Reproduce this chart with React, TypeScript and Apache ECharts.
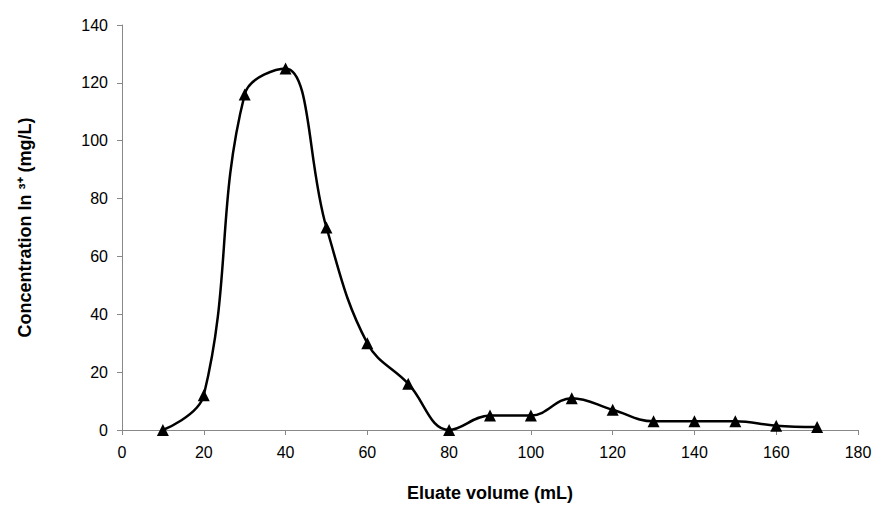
import { useEffect, useRef } from 'react';
import * as echarts from 'echarts';

const volumes = [10, 20, 30, 40, 50, 60, 70, 80, 90, 100, 110, 120, 130, 140, 150, 160, 170];
const concentration = [0, 12, 116, 125, 70, 30, 16, 0, 5, 5, 11, 7, 3, 3, 3, 1.5, 1];

export default function App() {
  const ref = useRef<HTMLDivElement>(null);

  useEffect(() => {
    if (!ref.current) return undefined;
    const chart = echarts.init(ref.current, undefined, { renderer: 'svg' });
    const axisText = { color: '#000', fontSize: 16, fontFamily: 'Liberation Sans, Arial, sans-serif' };
    chart.setOption({
      animation: false,
      backgroundColor: '#fff',
      grid: { left: 114, right: 20, top: 17, bottom: 65 },
      xAxis: {
        type: 'value',
        min: 0,
        max: 180,
        interval: 20,
        name: 'Eluate volume (mL)',
        nameLocation: 'middle',
        nameGap: 54,
        nameTextStyle: { ...axisText, fontSize: 18, fontWeight: 'bold' },
        axisLine: { lineStyle: { color: '#888' } },
        axisTick: { lineStyle: { color: '#888' } },
        axisLabel: { ...axisText, margin: 14 },
        splitLine: { show: false },
      },
      yAxis: {
        type: 'value',
        min: 0,
        max: 140,
        interval: 20,
        name: 'Concentration In ³⁺ (mg/L)',
        nameLocation: 'middle',
        nameGap: 88,
        nameTextStyle: { ...axisText, fontSize: 18, fontWeight: 'bold' },
        axisLine: { show: true, lineStyle: { color: '#888' } },
        axisTick: { show: true, lineStyle: { color: '#888' } },
        axisLabel: { ...axisText, margin: 14 },
        splitLine: { show: false },
      },
      series: [
        {
          type: 'line',
          smooth: 0.4,
          data: volumes.map((v, i) => [v, concentration[i]]),
          symbol: 'triangle',
          symbolSize: 12,
          lineStyle: { color: '#000', width: 2.5 },
          itemStyle: { color: '#000' },
        },
      ],
    });
    return () => chart.dispose();
  }, []);

  return <div ref={ref} style={{ width: 870, height: 499 }} />;
}
